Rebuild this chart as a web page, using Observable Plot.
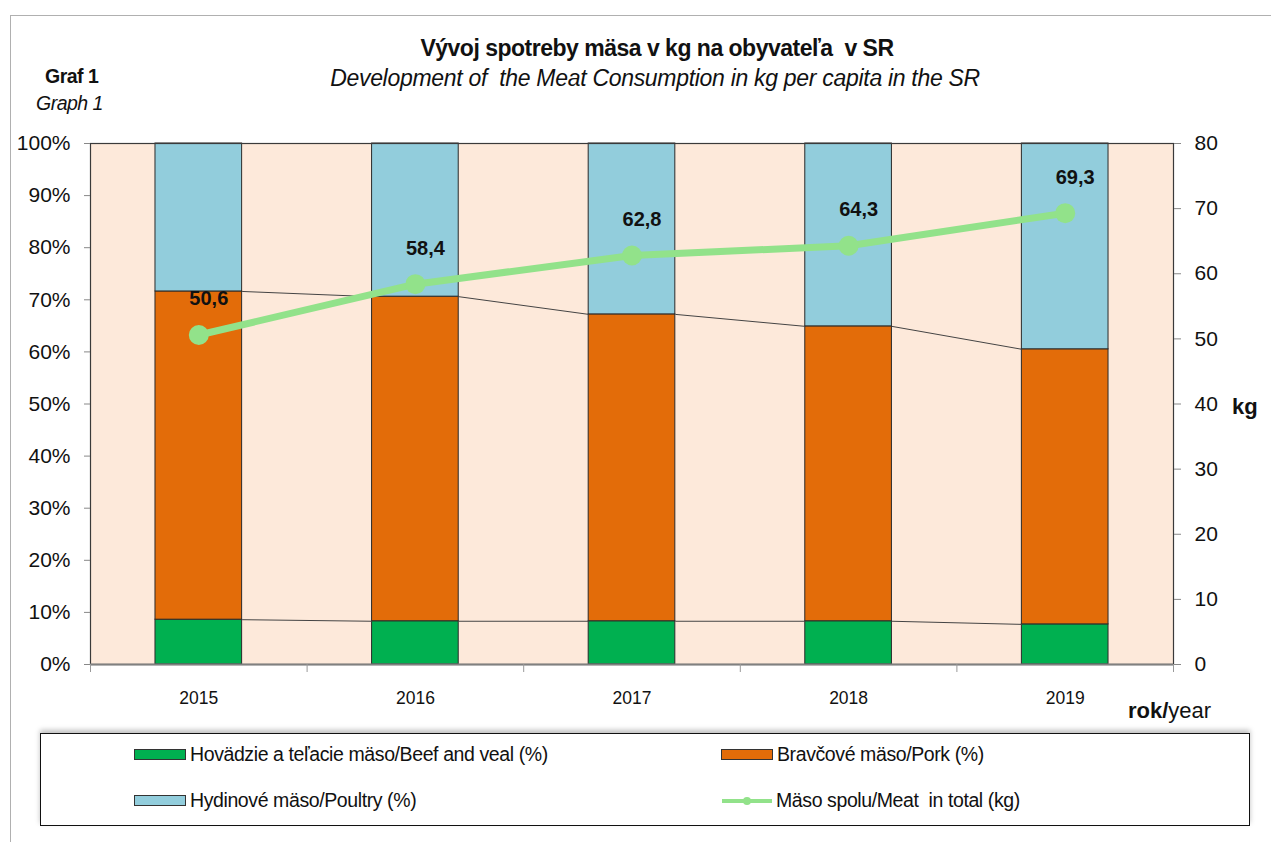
<!DOCTYPE html>
<html><head><meta charset="utf-8">
<script src="https://cdn.jsdelivr.net/npm/d3@7"></script>
<script src="https://cdn.jsdelivr.net/npm/@observablehq/plot@0.6"></script>
<style>
body{margin:0;background:#fff;font-family:"Liberation Sans",Arial,sans-serif;color:#111}
#wrap{position:relative;width:1271px;height:842px;overflow:hidden;background:#fff}
.outer{position:absolute;left:10px;top:15px;width:1290px;height:900px;border:1.5px solid #b0b0b0}
.t{position:absolute;white-space:pre}
#title{left:0;width:1314px;text-align:center;top:35px;font-weight:bold;font-size:23px;letter-spacing:-0.5px}
#subtitle{left:0;width:1310px;text-align:center;top:65px;font-style:italic;font-size:23px;letter-spacing:-0.3px}
#graf{left:45px;top:65px;font-weight:bold;font-size:19.5px;letter-spacing:-0.5px}
#graph{left:36px;top:92px;font-style:italic;font-size:19.5px;letter-spacing:-0.5px}
#chart{position:absolute;left:0;top:125px}
#kg{left:1232px;top:394px;font-weight:bold;font-size:22px}
#rok{left:1128px;top:698px;font-size:22px}
#legend{position:absolute;left:40px;top:733px;width:1208px;height:91px;border:1.5px solid #111;box-shadow:0 -3px 5px rgba(0,0,0,0.25);background:#fff}
.li{position:absolute;font-size:19.5px;letter-spacing:-0.4px;display:flex;align-items:center}
.sw{display:inline-block;width:50px;height:9px;border:1.2px solid #333;margin-right:4px}
</style></head><body>
<div id="wrap">
  <div class="outer"></div>
  <div class="t" id="title">Vývoj spotreby mäsa v kg na obyvateľa  v SR</div>
  <div class="t" id="subtitle">Development of  the Meat Consumption in kg per capita in the SR</div>
  <div class="t" id="graf">Graf 1</div>
  <div class="t" id="graph">Graph 1</div>
  <div id="chart"></div>
  <div class="t" id="kg">kg</div>
  <div class="t" id="rok"><b>rok/</b>year</div>
  <div id="legend"></div>
</div>
<script>
const years = [2015, 2016, 2017, 2018, 2019];
const beefPct = [8.6, 8.3, 8.3, 8.3, 7.7];
const porkPct = [63.0, 62.3, 58.9, 56.6, 52.8];
const poultryPct = [28.4, 29.4, 32.8, 35.1, 39.5];
const totalKg = [50.6, 58.4, 62.8, 64.3, 69.3];
const kgMax = 80;
const seriesNames = [
  "Hovädzie a teľacie mäso/Beef and veal (%)",
  "Bravčové mäso/Pork (%)",
  "Hydinové mäso/Poultry (%)"
];
const lineName = "Mäso spolu/Meat  in total (kg)";
const colors = ["#00b050", "#e36c09", "#92cddc"];
const lineColor = "#92e28a";
const pctTicks = d3.range(0, 101, 10);
const kgTicks = d3.range(0, 81, 10);

const half = 0.2; // bar half width in year units
const stacked = [];
const tops = [[], []];
years.forEach((yr, i) => {
  let base = 0;
  [beefPct[i], porkPct[i], poultryPct[i]].forEach((v, j) => {
    stacked.push({year: yr, series: seriesNames[j], y1: base, y2: base + v});
    base += v;
    if (j < 2) tops[j].push({year: yr, top: base});
  });
});
const seriesLinks = [];
tops.forEach(arr => {
  for (let i = 0; i < arr.length - 1; i++) {
    seriesLinks.push({x1: arr[i].year + half, y1: arr[i].top, x2: arr[i + 1].year - half, y2: arr[i + 1].top});
  }
});
const totals = years.map((yr, i) => ({year: yr, kg: totalKg[i], y: totalKg[i] * 100 / kgMax}));
const boundaries = d3.range(years[0] - 0.5, years[years.length - 1] + 0.51, 1);

const chart = Plot.plot({
  width: 1271,
  height: 600,
  marginLeft: 90,
  marginRight: 98,
  marginTop: 18,
  marginBottom: 61,
  style: {fontFamily: "Liberation Sans, Arial, sans-serif", color: "#111", background: "transparent"},
  x: {type: "linear", domain: [years[0] - 0.5, years[years.length - 1] + 0.5]},
  y: {domain: [0, 100]},
  color: {domain: seriesNames, range: colors},
  marks: [
    Plot.frame({fill: "#fde9da", stroke: null}),
    Plot.rectY(stacked, {x1: d => d.year - half, x2: d => d.year + half, y1: "y1", y2: "y2", fill: "series", stroke: "#2a2a2a", strokeWidth: 1}),
    Plot.link(seriesLinks, {x1: "x1", y1: "y1", x2: "x2", y2: "y2", stroke: "#444", strokeWidth: 1}),
    Plot.frame({stroke: "#3a3a3a", strokeWidth: 1.2}),
    Plot.ruleY([0], {stroke: "#808080", strokeWidth: 2}),
    Plot.axisY(pctTicks, {anchor: "left", tickFormat: d => d + "%", tickSize: 6, tickPadding: 14, fontSize: 21, stroke: "#888"}),
    Plot.axisY(kgTicks.map(k => k * 100 / kgMax), {anchor: "right", tickFormat: d => String(Math.round(d * kgMax / 100)), tickSize: 7, tickPadding: 14, fontSize: 21, stroke: "#888"}),
    Plot.axisX(years, {anchor: "bottom", tickSize: 0, tickPadding: 27, fontSize: 17.5, tickFormat: d => String(d)}),
    Plot.axisX(boundaries, {anchor: "bottom", tickSize: 8, tickFormat: () => "", stroke: "#999"}),
    Plot.line(totals, {x: "year", y: "y", stroke: lineColor, strokeWidth: 7}),
    Plot.dot(totals, {x: "year", y: "y", r: 10, fill: lineColor, stroke: null}),
    Plot.text(totals, {x: "year", y: "y", text: d => d.kg.toFixed(1).replace(".", ","), dx: 10, dy: -36, fontSize: 20, fontWeight: "bold", fill: "#111"})
  ]
});
document.getElementById("chart").appendChild(chart);

// legend
const legend = document.getElementById("legend");
const items = [
  {label: seriesNames[0], color: colors[0], type: "rect", left: 93, top: 9},
  {label: seriesNames[1], color: colors[1], type: "rect", left: 680, top: 9},
  {label: seriesNames[2], color: colors[2], type: "rect", left: 93, top: 55},
  {label: lineName, color: lineColor, type: "line", left: 680, top: 55}
];
items.forEach(it => {
  const d = document.createElement("div");
  d.className = "li";
  d.style.left = it.left + "px";
  d.style.top = it.top + "px";
  let sw;
  if (it.type === "rect") {
    sw = `<span class="sw" style="background:${it.color}"></span>`;
  } else {
    sw = `<svg width="52" height="12" style="margin-right:3px"><line x1="1" x2="51" y1="6" y2="6" stroke="${it.color}" stroke-width="4"/><circle cx="26" cy="6" r="4" fill="${it.color}"/></svg>`;
  }
  d.innerHTML = sw + `<span style="white-space:pre">${it.label}</span>`;
  legend.appendChild(d);
});
</script>
</body></html>
